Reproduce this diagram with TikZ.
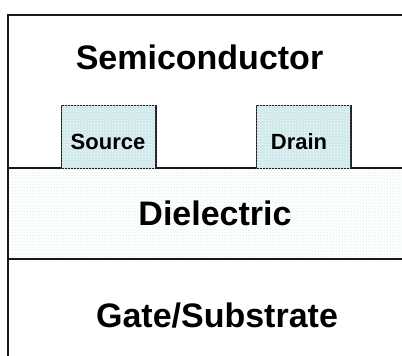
\documentclass[tikz,border=0pt]{standalone}
\usepackage{fontspec}
\setmainfont{Liberation Sans}
\usepackage{tikz}
\usetikzlibrary{
	patterns
}
\definecolor{contactcyan}{HTML}{CFE8EA}
\definecolor{dotcyan}{HTML}{A8D8DC}
\newcommand{\bigtext}[1]{\fontsize{34}{40}\selectfont\bfseries #1}
\newcommand{\smalltext}[1]{\fontsize{22}{26}\selectfont\bfseries #1}

\begin{document}
\begin{tikzpicture}[x=1pt,y=-1pt,
		layerline/.style={line width=1.5pt,color=black!90},
		contactbox/.style={layerline,fill=contactcyan,postaction={pattern=crosshatch dots,pattern color=white}},
		oxidefill/.style={pattern=dots,pattern color=dotcyan}
	]
			\useasboundingbox (0,0) rectangle (402,356);

			% dielectric band
			\fill[oxidefill] (8,168) rectangle (402,259);
			\draw[layerline] (8,168) -- (402,168);
			\draw[layerline] (8,259) -- (402,259);

			% source and drain contacts
			\draw[contactbox] (61.5,168) -- (61.5,105.5) -- (156,105.5) -- (156,168);
			\draw[contactbox] (256.5,168) -- (256.5,105.5) -- (351,105.5) -- (351,168);

			% outer frame
			\draw[layerline] (402,15) -- (8,15) -- (8,356);

			\draw
				node (semi)  at (199.5,57) {\bigtext{Semiconductor}}
				node (src)   at (108,142)  {\smalltext{Source}}
				node (drn)   at (299,142)  {\smalltext{Drain}}
				node (diel)  at (215,213)  {\bigtext{Dielectric}}
				node (gate)  at (217,316)  {\bigtext{Gate/Substrate}}
			;
		\end{tikzpicture}
\end{document}
